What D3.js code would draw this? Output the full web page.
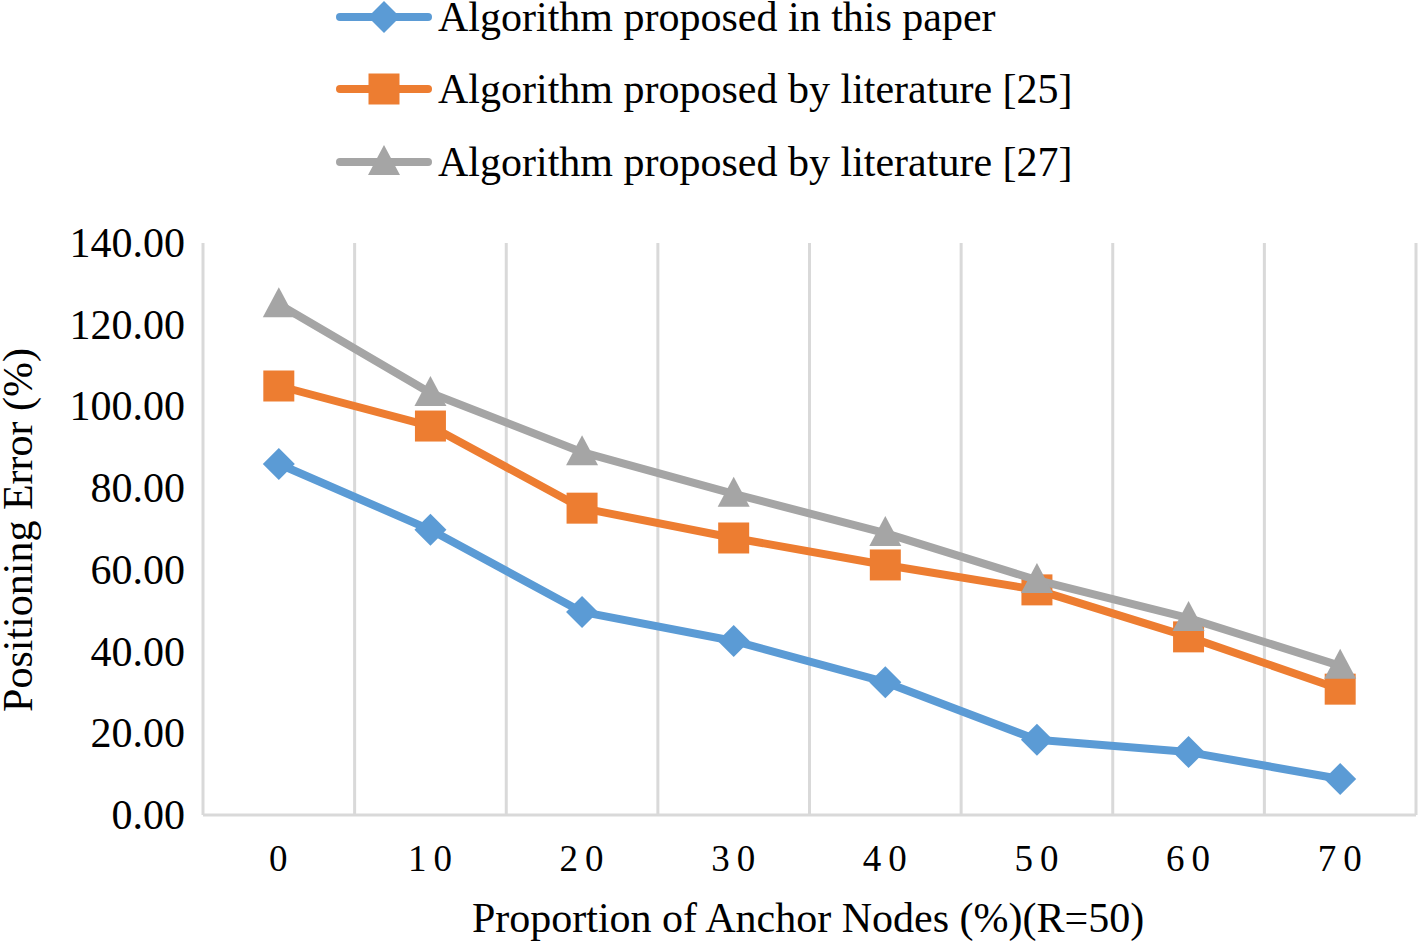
<!DOCTYPE html>
<html><head><meta charset="utf-8">
<script src="https://cdn.jsdelivr.net/npm/d3@7"></script>
<style>body{margin:0;background:#fff}svg{display:block}text{font-family:"Liberation Serif","Times New Roman",serif;fill:#000}</style>
</head><body>
<script>
const categories = ["0","10","20","30","40","50","60","70"];
const seriesNames = ["Algorithm proposed in this paper","Algorithm proposed by literature [25]","Algorithm proposed by literature [27]"];
const thisPaper = [85.9, 69.8, 49.7, 42.6, 32.5, 18.4, 15.4, 8.8];
const lit25 = [105.0, 95.2, 75.1, 67.8, 61.2, 55.1, 43.6, 30.8];
const lit27 = [125.0, 103.3, 88.8, 78.6, 69.0, 57.5, 48.2, 36.5];
const yTicks = [0,20,40,60,80,100,120,140];
const colors = ["#5B9BD5","#ED7D31","#A5A5A5"];
const markers = ["diamond","square","triangle"];

const W=1418,H=942;
const svg=d3.select("body").append("svg").attr("width",W).attr("height",H);
const m={l:203,r:1416,t:243,b:815};
const x=d3.scaleBand().domain(categories).range([m.l,m.r]);
const y=d3.scaleLinear().domain([0,140]).range([m.b,m.t]);

const bounds=categories.map(c=>x(c)).concat([m.r]);
svg.append("g").selectAll("line").data(bounds).join("line")
  .attr("x1",d=>d).attr("x2",d=>d).attr("y1",m.t).attr("y2",m.b)
  .attr("stroke","#D9D9D9").attr("stroke-width",3);
svg.append("line").attr("x1",m.l).attr("x2",m.r).attr("y1",m.b).attr("y2",m.b)
  .attr("stroke","#D9D9D9").attr("stroke-width",3);

const yAxis=d3.axisLeft(y).tickValues(yTicks).tickFormat(d=>d.toFixed(2)).tickSize(0).tickPadding(18);
const ga=svg.append("g").attr("transform",`translate(${m.l},0)`).call(yAxis);
ga.select(".domain").remove();
ga.selectAll("text").attr("font-size",42).attr("font-family","Liberation Serif").attr("fill","#000");

const xAxis=d3.axisBottom(x).tickSize(0).tickPadding(30);
const gx=svg.append("g").attr("transform",`translate(0,${m.b})`).call(xAxis);
gx.select(".domain").remove();
gx.selectAll("text").attr("font-size",37).attr("font-family","Liberation Serif").attr("fill","#000")
  .attr("letter-spacing",7).attr("dx",3);

svg.append("text").attr("x",808).attr("y",932).attr("text-anchor","middle").attr("font-size",42)
  .text("Proportion of Anchor Nodes (%)(R=50)");
svg.append("text").attr("transform","translate(32,530) rotate(-90)").attr("text-anchor","middle").attr("font-size",42)
  .text("Positioning Error (%)");

const data=[thisPaper,lit25,lit27];
function markerPath(type){
  if(type==="diamond") return "M0,-16L16,0L0,16L-16,0Z";
  if(type==="square") return "M-15.5,-15.5H15.5V15.5H-15.5Z";
  return "M0,-17L16,13H-16Z";
}
const line=d3.line().x((d,i)=>x(categories[i])+x.bandwidth()/2).y(d=>y(d));
data.forEach((vals,s)=>{
  svg.append("path").datum(vals).attr("d",line).attr("fill","none")
    .attr("stroke",colors[s]).attr("stroke-width",8).attr("stroke-linejoin","round").attr("stroke-linecap","round");
  svg.append("g").selectAll("path").data(vals).join("path")
    .attr("d",markerPath(markers[s]))
    .attr("transform",(d,i)=>`translate(${x(categories[i])+x.bandwidth()/2},${y(d)})`)
    .attr("fill",colors[s]);
});

const legY=[17,89,162];
seriesNames.forEach((n,s)=>{
  const g=svg.append("g").attr("transform",`translate(0,${legY[s]})`);
  g.append("line").attr("x1",340).attr("x2",428).attr("y1",0).attr("y2",0)
    .attr("stroke",colors[s]).attr("stroke-width",8).attr("stroke-linecap","round");
  g.append("path").attr("d",markerPath(markers[s])).attr("transform","translate(384,0)").attr("fill",colors[s]);
  g.append("text").attr("x",438).attr("y",14).attr("font-size",42).text(n);
});
</script>
</body></html>
